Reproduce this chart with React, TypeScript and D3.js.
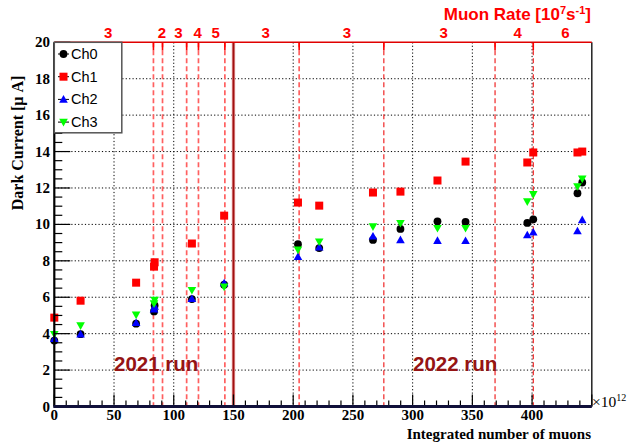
import React from "react";
import * as d3 from "d3";

// Integrated number of muons (x10^12)
const xVals = [0, 22, 68.5, 83.5, 84, 115.2, 142.2, 204, 221.8, 266.8, 289.8, 320.8, 344.3, 396, 401, 438, 442];
const ch0 = [3.62, 3.97, 4.55, 5.22, 5.55, 5.9, 6.69, 8.91, 8.7, 9.15, 9.75, 10.17, 10.14, 10.08, 10.28, 11.71, 12.3];
const ch1 = [4.88, 5.81, 6.8, 7.68, 7.92, 8.95, 10.48, 11.2, 11.03, 11.75, 11.8, 12.41, 13.45, 13.4, 13.95, 13.95, 14.0];
const ch2 = [3.72, 3.97, 4.6, 5.35, 5.5, 5.92, 6.78, 8.23, 8.75, 9.35, 9.15, 9.11, 9.1, 9.42, 9.57, 9.64, 10.25];
const ch3 = [3.97, 4.44, 5.03, 5.65, 5.85, 6.38, 6.57, 8.6, 9.05, 9.88, 10.06, 9.79, 9.79, 11.25, 11.65, 12.08, 12.5];

const dashedLines = [83, 90.6, 110.8, 120.7, 142.8, 205, 275.9, 369, 401];
const runBoundary = 150;
const rateLabelX = [45, 90, 104, 120, 135, 177, 245, 326, 388, 428];
const rateLabels = ["3", "2", "3", "4", "5", "3", "3", "3", "4", "6"];

const xTicks = [0, 50, 100, 150, 200, 250, 300, 350, 400];
const yTicks = [0, 2, 4, 6, 8, 10, 12, 14, 16, 18, 20];
const legendNames = ["Ch0", "Ch1", "Ch2", "Ch3"];

const W = 627, H = 446;
const L = 54.3, R = 591.8, T = 42.3, B = 406.5;

const x = d3.scaleLinear().domain([0, 450]).range([L, R]);
const y = d3.scaleLinear().domain([0, 20]).range([B, T]);

const serif = "'Liberation Serif', 'Times New Roman', serif";
const sans = "'Liberation Sans', Arial, sans-serif";

function Marker({ kind, cx, cy }: { kind: number; cx: number; cy: number }) {
  if (kind === 0) return <circle cx={cx} cy={cy} r={3.9} fill="#000" />;
  if (kind === 1) return <rect x={cx - 4} y={cy - 4} width={8} height={8} fill="#ff0000" />;
  if (kind === 2)
    return <path d={`M${cx},${cy - 4.3} L${cx + 4.3},${cy + 3.3} L${cx - 4.3},${cy + 3.3}Z`} fill="#0000ff" />;
  return <path d={`M${cx},${cy + 4.3} L${cx + 4.3},${cy - 3.3} L${cx - 4.3},${cy - 3.3}Z`} fill="#00ff00" />;
}

export default function App() {
  const series = [ch0, ch1, ch2, ch3];
  const xMinor = d3.range(0, 451, 10);
  const yMinor = d3.range(0, 20.01, 0.5);
  const gridX = xTicks.filter((v) => v > 0);
  const gridY = yTicks.filter((v) => v > 0 && v < 20);
  return (
    <svg width={W} height={H} style={{ position: "absolute", left: 0, top: 0, background: "#fff" }}>
      <rect x={0} y={0} width={W} height={H} fill="#fff" />
      {/* grid */}
      {gridX.map((v) => (
        <line key={"gx" + v} x1={x(v)} x2={x(v)} y1={T} y2={B} stroke="#000" strokeWidth={1} strokeDasharray="1.2,2.2" />
      ))}
      {gridY.map((v) => (
        <line key={"gy" + v} x1={L} x2={R} y1={y(v)} y2={y(v)} stroke="#000" strokeWidth={1} strokeDasharray="1.2,2.2" />
      ))}
      {/* red dashed lines */}
      {dashedLines.map((v, i) => (
        <g key={"dl" + i}>
          <line x1={x(v)} x2={x(v)} y1={T} y2={B} stroke={i < 6 ? "#ff6060" : "#ee1111"} strokeWidth={i < 6 ? 1.7 : 1.1} strokeDasharray="5,3" />
          <line x1={x(v)} x2={x(v)} y1={T} y2={T + 8} stroke="#ff0000" strokeWidth={1.6} />
        </g>
      ))}
      {/* run boundary */}
      <line x1={x(runBoundary)} x2={x(runBoundary)} y1={T} y2={B} stroke="#e8a0a0" strokeWidth={3.4} />
      <line x1={x(runBoundary)} x2={x(runBoundary)} y1={T} y2={B} stroke="#a01010" strokeWidth={1.8} />
      {/* run labels */}
      <text x={114} y={370.5} fontFamily={sans} fontWeight="bold" fontSize={20.5} fill="#951414">2021 run</text>
      <text x={413} y={370.5} fontFamily={sans} fontWeight="bold" fontSize={20.5} fill="#951414">2022 run</text>
      {/* data */}
      {series.map((s, k) => (
        <g key={"s" + k}>
          {s.map((v, i) => (
            <Marker key={i} kind={k} cx={x(xVals[i])} cy={y(v)} />
          ))}
        </g>
      ))}
      {/* frame */}
      <line x1={R} x2={R} y1={T} y2={B} stroke="#222" strokeWidth={1.5} />
      <line x1={L} x2={R} y1={T} y2={T} stroke="#e00000" strokeWidth={1.6} />
      {/* left axis */}
      {yMinor.map((v, i) => {
        const major = Math.abs(v / 2 - Math.round(v / 2)) < 1e-6;
        return <line key={"ym" + i} x1={L} x2={L + (major ? 16 : 8)} y1={y(v)} y2={y(v)} stroke="#000" strokeWidth={1.2} />;
      })}
      <line x1={L} x2={L} y1={T} y2={B} stroke="#000" strokeWidth={2.2} />
      {yTicks.map((v) => (
        <text key={"yt" + v} x={50} y={y(v) + 5} textAnchor="end" fontFamily={serif} fontWeight="bold" fontSize={15}>
          {v}
        </text>
      ))}
      {/* bottom axis */}
      {xMinor.map((v) => {
        const major = v % 50 === 0;
        return <line key={"xm" + v} x1={x(v)} x2={x(v)} y1={B} y2={B - (major ? 12 : 6)} stroke="#000" strokeWidth={1.2} />;
      })}
      <line x1={L - 1} x2={R} y1={B} y2={B} stroke="#10103a" strokeWidth={2.8} />
      {xTicks.map((v) => (
        <text key={"xt" + v} x={x(v)} y={420} textAnchor="middle" fontFamily={serif} fontWeight="bold" fontSize={15}>
          {v}
        </text>
      ))}
      <text x={592} y={407} fontFamily={serif} fontSize={15.5}>
        ×10<tspan dy={-6} fontSize={10}>12</tspan>
      </text>
      <text x={591} y={439} textAnchor="end" fontFamily={serif} fontWeight="bold" fontSize={15}>
        Integrated number of muons
      </text>
      <text transform="translate(23,143) rotate(-90)" textAnchor="middle" fontFamily={serif} fontWeight="bold" fontSize={16}>
        Dark Current [μ A]
      </text>
      {/* top axis labels */}
      {rateLabels.map((t, i) => (
        <text key={"rl" + i} x={x(rateLabelX[i])} y={37.5} textAnchor="middle" fontFamily={sans} fontWeight="bold" fontSize={15} fill="#ff0000">
          {t}
        </text>
      ))}
      <text x={591} y={19.5} textAnchor="end" fontFamily={sans} fontWeight="bold" fontSize={17} fill="#ff0000">
        Muon Rate [10<tspan dy={-6} fontSize={11}>7</tspan>
        <tspan dy={6}>s</tspan>
        <tspan dy={-6} fontSize={11}>-1</tspan>
        <tspan dy={6}>]</tspan>
      </text>
      {/* legend */}
      <rect x={L} y={T} width={67.5} height={90.5} fill="#fff" stroke="#555" strokeWidth={1.5} />
      {legendNames.map((n, k) => {
        const ly = 54 + k * 22.7;
        return (
          <g key={"lg" + k}>
            <line x1={58} x2={69} y1={ly} y2={ly} stroke="#000" strokeWidth={1} />
            <Marker kind={k} cx={63.5} cy={ly} />
            <text x={71} y={ly + 5} fontFamily={sans} fontSize={14.5}>
              {n}
            </text>
          </g>
        );
      })}
    </svg>
  );
}
